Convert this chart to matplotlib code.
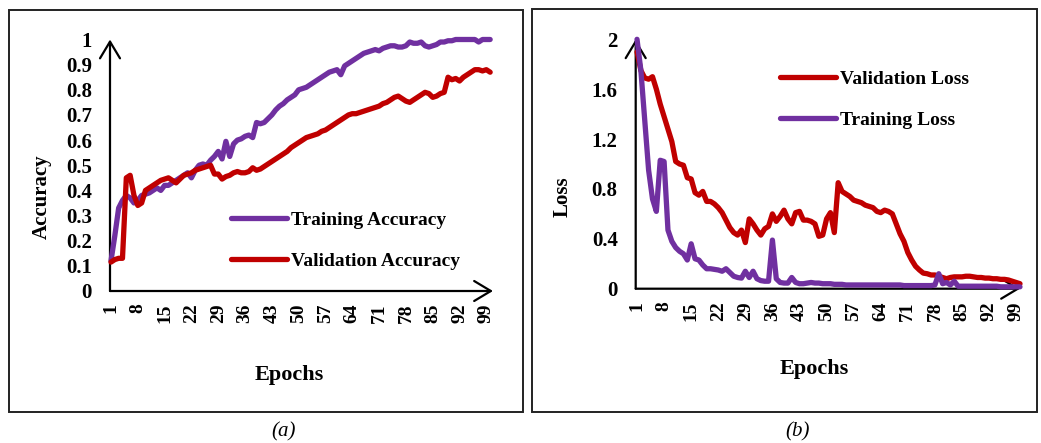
import numpy as np
import matplotlib
matplotlib.use('Agg')
import matplotlib.pyplot as plt
from matplotlib.patches import Rectangle

plt.rcParams['font.family'] = ['Liberation Serif', 'DejaVu Serif']
plt.rcParams['font.weight'] = 'bold'

# 数据
epochs = np.arange(1, 101)

train_acc = [0.12, 0.22, 0.33, 0.36, 0.38, 0.37, 0.35, 0.36, 0.38, 0.385,
             0.39, 0.40, 0.41, 0.40, 0.42, 0.42, 0.43, 0.44, 0.45, 0.46,
             0.47, 0.45, 0.48, 0.50, 0.505, 0.50, 0.52, 0.535, 0.555, 0.525,
             0.595, 0.535, 0.585, 0.60, 0.605, 0.615, 0.62, 0.61, 0.67, 0.665,
             0.67, 0.685, 0.70, 0.72, 0.735, 0.745, 0.76, 0.77, 0.78, 0.80,
             0.805, 0.81, 0.82, 0.83, 0.84, 0.85, 0.86, 0.87, 0.875, 0.88,
             0.86, 0.895, 0.905, 0.915, 0.925, 0.935, 0.945, 0.95, 0.955, 0.96,
             0.955, 0.965, 0.97, 0.975, 0.975, 0.97, 0.97, 0.975, 0.99, 0.985,
             0.985, 0.99, 0.975, 0.97, 0.975, 0.98, 0.99, 0.99, 0.995, 0.995,
             1.0, 1.0, 1.0, 1.0, 1.0, 1.0, 0.99, 1.0, 1.0, 1.0]

val_acc = [0.115, 0.125, 0.13, 0.13, 0.45, 0.46, 0.38, 0.34, 0.35, 0.40,
           0.41, 0.42, 0.43, 0.44, 0.445, 0.45, 0.44, 0.43, 0.445, 0.46,
           0.465, 0.47, 0.48, 0.485, 0.49, 0.495, 0.50, 0.465, 0.465, 0.445,
           0.455, 0.46, 0.47, 0.475, 0.47, 0.47, 0.475, 0.49, 0.48, 0.485,
           0.495, 0.505, 0.515, 0.525, 0.535, 0.545, 0.555, 0.57, 0.58, 0.59,
           0.60, 0.61, 0.615, 0.62, 0.625, 0.635, 0.64, 0.65, 0.66, 0.67,
           0.68, 0.69, 0.70, 0.705, 0.705, 0.71, 0.715, 0.72, 0.725, 0.73,
           0.735, 0.745, 0.75, 0.76, 0.77, 0.775, 0.765, 0.755, 0.75, 0.76,
           0.77, 0.78, 0.79, 0.785, 0.77, 0.775, 0.785, 0.79, 0.85, 0.84,
           0.845, 0.835, 0.85, 0.86, 0.87, 0.88, 0.88, 0.875, 0.88, 0.87]

train_loss = [2.0, 1.75, 1.35, 0.95, 0.72, 0.62, 1.03, 1.02, 0.47, 0.38,
              0.33, 0.30, 0.28, 0.23, 0.36, 0.24, 0.23, 0.19, 0.16, 0.16,
              0.155, 0.15, 0.14, 0.16, 0.13, 0.10, 0.09, 0.085, 0.14, 0.09,
              0.14, 0.08, 0.065, 0.06, 0.06, 0.39, 0.08, 0.05, 0.045, 0.045,
              0.09, 0.05, 0.04, 0.04, 0.045, 0.05, 0.045, 0.045, 0.04, 0.04,
              0.04, 0.035, 0.035, 0.035, 0.03, 0.03, 0.03, 0.03, 0.03, 0.03,
              0.03, 0.03, 0.03, 0.03, 0.03, 0.03, 0.03, 0.03, 0.03, 0.025,
              0.025, 0.025, 0.025, 0.025, 0.025, 0.025, 0.025, 0.03, 0.12, 0.04,
              0.05, 0.03, 0.06, 0.02, 0.02, 0.02, 0.02, 0.02, 0.02, 0.02,
              0.02, 0.02, 0.02, 0.02, 0.015, 0.015, 0.015, 0.015, 0.015, 0.015]

val_loss = [1.90, 1.75, 1.69, 1.68, 1.70, 1.60, 1.48, 1.38, 1.28, 1.18,
            1.02, 1.00, 0.99, 0.89, 0.88, 0.77, 0.75, 0.78, 0.70, 0.70,
            0.68, 0.65, 0.61, 0.55, 0.49, 0.45, 0.43, 0.47, 0.37, 0.56,
            0.52, 0.47, 0.43, 0.48, 0.50, 0.60, 0.54, 0.58, 0.63, 0.56,
            0.52, 0.61, 0.62, 0.55, 0.55, 0.54, 0.52, 0.42, 0.43, 0.56,
            0.61, 0.45, 0.85, 0.78, 0.76, 0.74, 0.71, 0.70, 0.69, 0.67,
            0.66, 0.65, 0.62, 0.61, 0.63, 0.62, 0.60, 0.52, 0.44, 0.38,
            0.29, 0.23, 0.18, 0.15, 0.125, 0.12, 0.11, 0.11, 0.10, 0.09,
            0.08, 0.09, 0.095, 0.095, 0.095, 0.10, 0.10, 0.095, 0.09, 0.09,
            0.085, 0.085, 0.08, 0.08, 0.075, 0.075, 0.07, 0.06, 0.05, 0.04]

acc_ticks = [0, 0.1, 0.2, 0.3, 0.4, 0.5, 0.6, 0.7, 0.8, 0.9, 1]
acc_tick_labels = ['0', '0.1', '0.2', '0.3', '0.4', '0.5', '0.6', '0.7', '0.8', '0.9', '1']
loss_ticks = [0, 0.4, 0.8, 1.2, 1.6, 2.0]
loss_tick_labels = ['0', '0.4', '0.8', '1.2', '1.6', '2']
epoch_ticks = list(range(1, 101, 7))

PURPLE = '#7030A0'
RED = '#C00000'

W, H = 1041, 443
fig = plt.figure(figsize=(W / 100, H / 100), dpi=100)


def fx(px):
    return px / W


def fy(py):
    return 1 - py / H


def add_box(x0, y0, x1, y1):
    fig.add_artist(Rectangle((fx(x0), fy(y1)), fx(x1) - fx(x0), fy(y0) - fy(y1),
                             transform=fig.transFigure, fill=False,
                             edgecolor='#222222', lw=1.4))


def setup_axes(ax, xlim, ylim, yticks, ylabels):
    ax.set_xlim(*xlim)
    ax.set_ylim(*ylim)
    for s in ax.spines.values():
        s.set_visible(False)
    ax.set_xticks(epoch_ticks)
    ax.set_xticklabels([str(t) for t in epoch_ticks], rotation=90, va='top')
    ax.set_yticks(yticks)
    ax.set_yticklabels(ylabels)
    ax.tick_params(axis='x', length=0, pad=9, labelsize=14)
    ax.tick_params(axis='y', length=0, pad=13, labelsize=15)
    arrow = dict(arrowstyle='->, head_length=0.6, head_width=0.36',
                 mutation_scale=20, lw=1.6, color='black', shrinkA=0, shrinkB=0)
    ax.annotate('', xy=(0, 1), xytext=(0, 0), xycoords='axes fraction',
                arrowprops=arrow, zorder=1)
    ax.annotate('', xy=(1, 0), xytext=(0, 0), xycoords='axes fraction',
                arrowprops=arrow, zorder=1)


# 外框
add_box(9, 10, 523, 412)
add_box(532, 9, 1037, 412)

# (a) 准确率
ax1 = fig.add_axes([fx(110), fy(291), fx(493) - fx(110), fy(39.5) - fy(291)])
setup_axes(ax1, (0.74, 100.74), (0, 1), acc_ticks, acc_tick_labels)
ax1.plot(epochs, train_acc, color=PURPLE, lw=3.8, label='Training Accuracy',
         solid_capstyle='round', clip_on=False, zorder=3)
ax1.plot(epochs, val_acc, color=RED, lw=3.8, label='Validation Accuracy',
         solid_capstyle='round', clip_on=False, zorder=4)
ax1.legend(loc='center left', bbox_to_anchor=(fx(231), fy(240.5)),
           bbox_transform=fig.transFigure, frameon=False, fontsize=14,
           handlelength=2.9, handletextpad=0.2, labelspacing=1.2, borderpad=0,
           borderaxespad=0)

fig.text(fx(42), fy(197), 'Accuracy', rotation=90, ha='center', va='center', fontsize=15)
fig.text(fx(289), fy(375), 'Epochs', ha='center', va='center', fontsize=16)
fig.text(fx(284), fy(432), '(a)', ha='center', va='center', fontsize=15,
         style='italic', weight='normal')

# (b) 损失
ax2 = fig.add_axes([fx(635.7), fy(288.7), fx(1020) - fx(635.7), fy(39.3) - fy(288.7)])
setup_axes(ax2, (0.66, 100), (0, 2), loss_ticks, loss_tick_labels)
ax2.plot(epochs, val_loss, color=RED, lw=3.8, label='Validation Loss',
         solid_capstyle='round', clip_on=False, zorder=3)
ax2.plot(epochs, train_loss, color=PURPLE, lw=3.8, label='Training Loss',
         solid_capstyle='round', clip_on=False, zorder=4)
ax2.legend(loc='center left', bbox_to_anchor=(fx(780), fy(99.5)),
           bbox_transform=fig.transFigure, frameon=False, fontsize=14,
           handlelength=2.9, handletextpad=0.2, labelspacing=1.2, borderpad=0,
           borderaxespad=0)

fig.text(fx(563), fy(197), 'Loss', rotation=90, ha='center', va='center', fontsize=15)
fig.text(fx(814), fy(369), 'Epochs', ha='center', va='center', fontsize=16)
fig.text(fx(798), fy(432), '(b)', ha='center', va='center', fontsize=15,
         style='italic', weight='normal')

fig.savefig('out.png', dpi=100)
